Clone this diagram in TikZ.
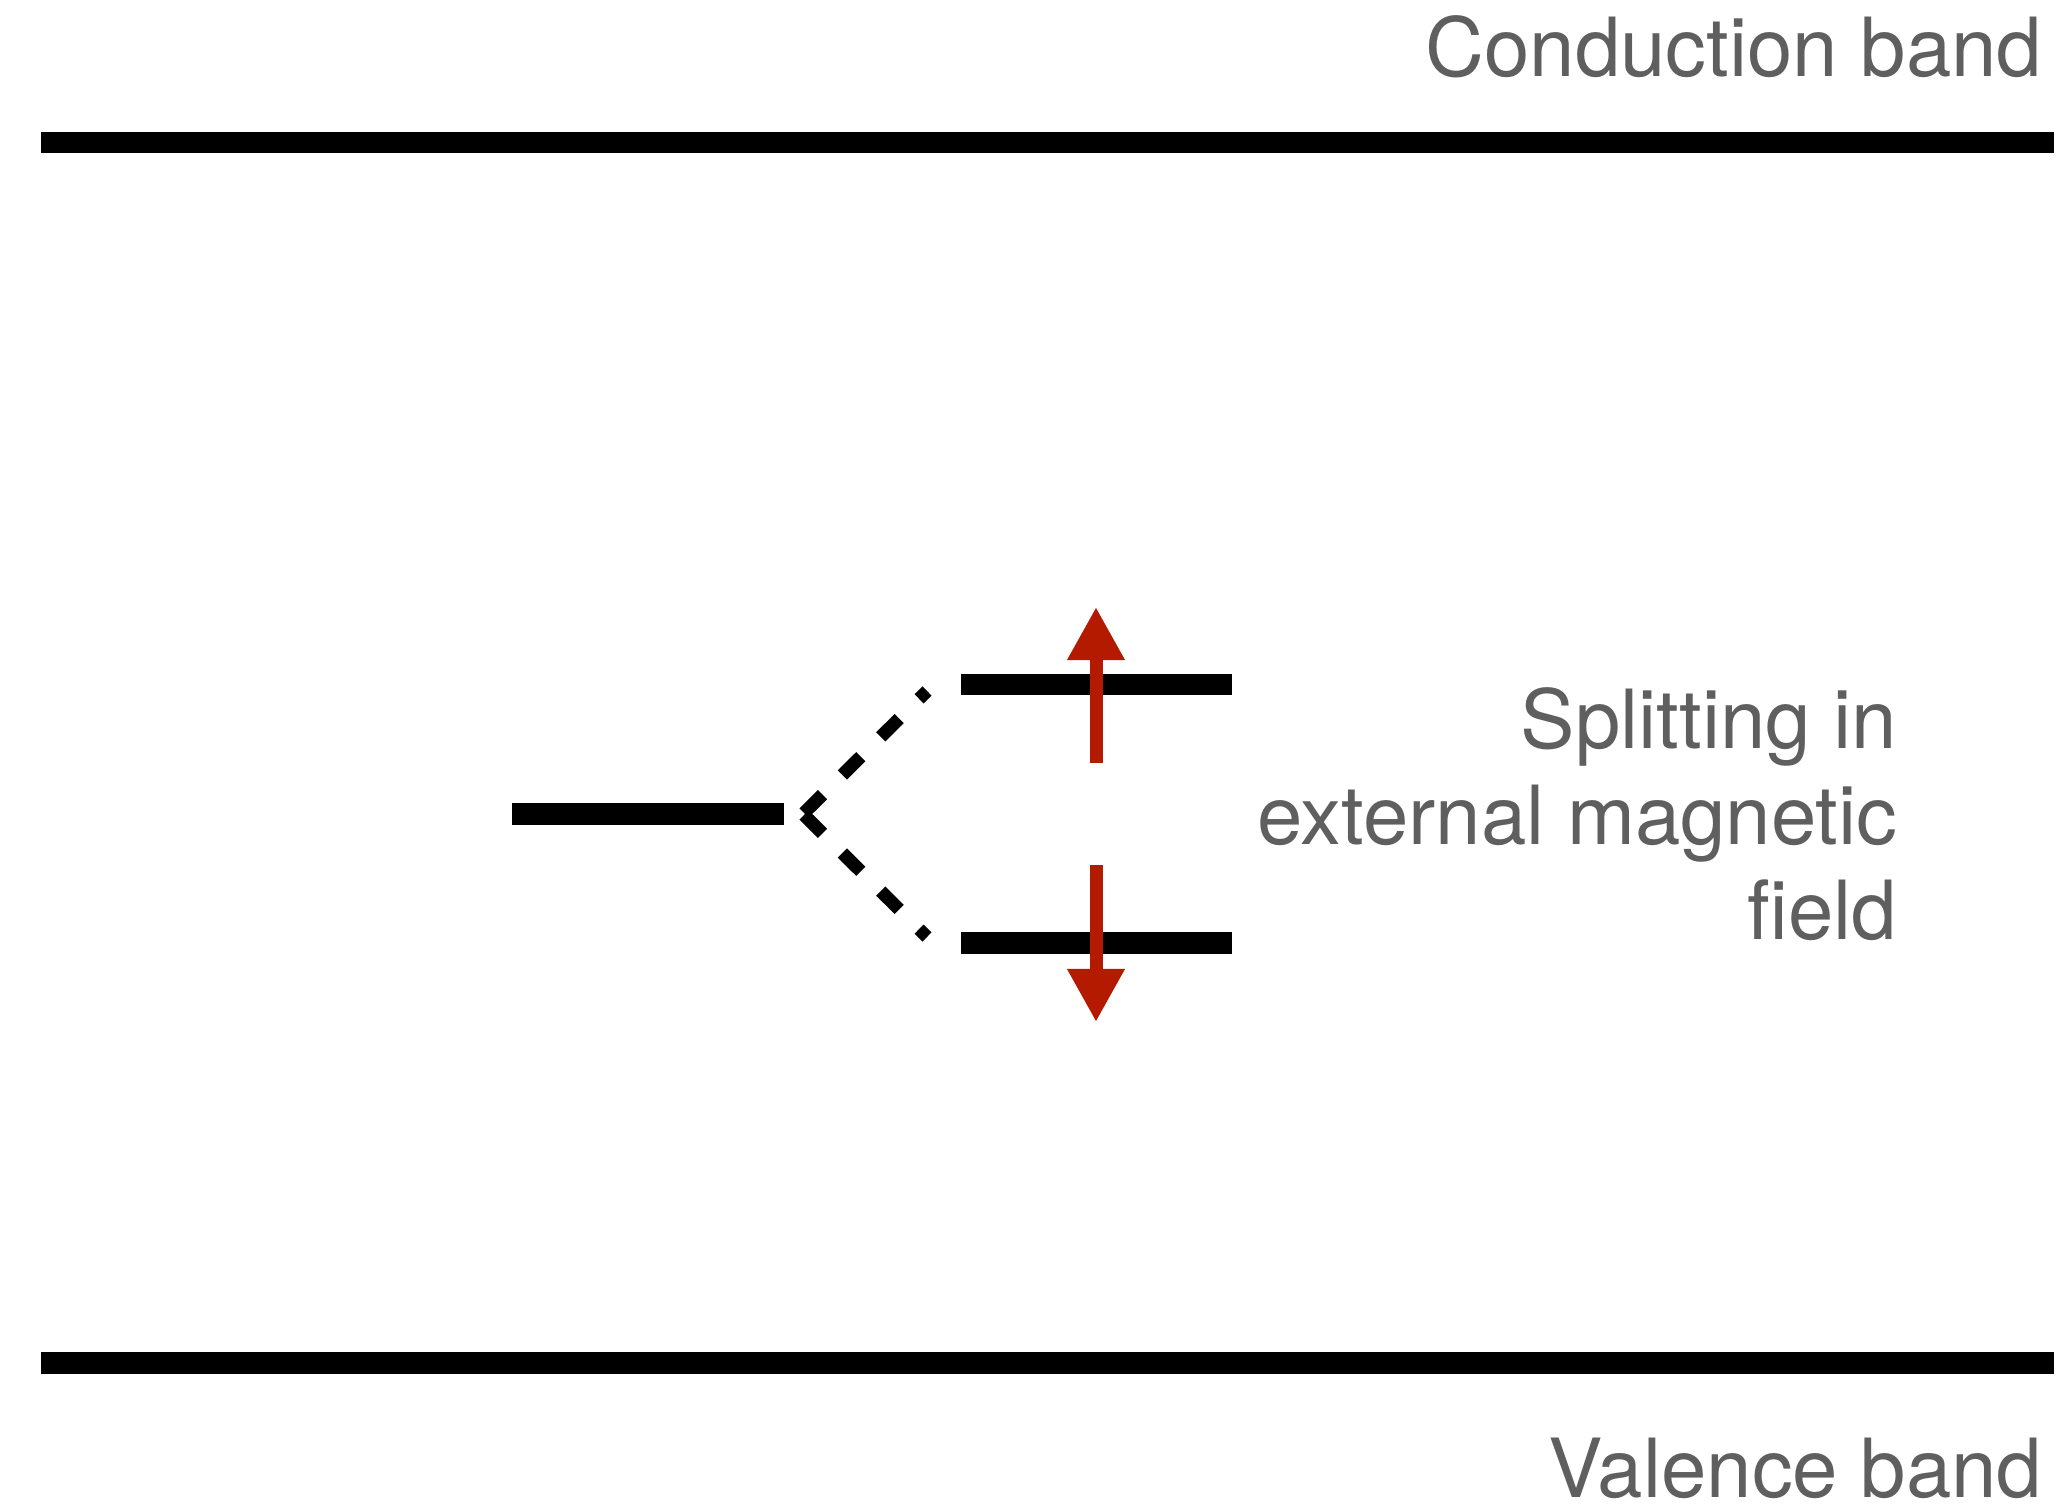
\documentclass[tikz,border=0pt]{standalone}
\usepackage{fontspec}
\setmainfont{TeX Gyre Heros}
\usetikzlibrary{arrows.meta}
\definecolor{sRed}{HTML}{B31A00}
\definecolor{sGrey}{HTML}{5F5F5F}
\tikzset{
  band/.style={line width=0.21cm, black},
  level/.style={line width=0.21cm, black},
  split/.style={line width=0.13cm, black, dash pattern=on 0.26cm off 0.28cm},
  spin/.style={line width=0.13cm, sRed, -{Triangle[length=0.53cm, width=0.54cm]}},
  bandlabel/.style={font=\fontsize{23.2pt}{27.2pt}\selectfont, text=sGrey, inner sep=0pt}
}
\begin{document}
\begin{tikzpicture}[x=0.01cm, y=-0.01cm]
  \useasboundingbox (0,0) rectangle (2069,1504);
  % bands
  \coordinate (cbL) at (41,143);
  \coordinate (cbR) at (2054,143);
  \coordinate (vbL) at (41,1363);
  \coordinate (vbR) at (2054,1363);
  \draw[band] (cbL) -- (cbR);
  \draw[band] (vbL) -- (vbR);
  \node[bandlabel, anchor=base east] (cbText) at (2043,77) {Conduction band};
  \node[bandlabel, anchor=base east, text depth=0pt] (vbText) at (2043,1497) {Valence band};
  % defect level and its Zeeman split
  \coordinate (lvL) at (512,814);
  \coordinate (lvR) at (784,814);
  \coordinate (upL) at (961,685);
  \coordinate (upR) at (1232,685);
  \coordinate (dnL) at (961,943);
  \coordinate (dnR) at (1232,943);
  \draw[level] (lvL) -- (lvR);
  \draw[level] (upL) -- (upR);
  \draw[level] (dnL) -- (dnR);
  \coordinate (fork) at (804,813);
  \coordinate (forkB) at (804,815);
  \coordinate (upEnd) at (927,691);
  \coordinate (dnEnd) at (927,937);
  \draw[split] (fork) -- (upEnd);
  \draw[split] (forkB) -- (dnEnd);
  % spins
  \coordinate (spUpA) at (1096,763);
  \coordinate (spUpB) at (1096,607);
  \coordinate (spDnA) at (1096,865);
  \coordinate (spDnB) at (1096,1022);
  \draw[spin] (spUpA) -- (spUpB);
  \draw[spin] (spDnA) -- (spDnB);
  \node[bandlabel, align=right, anchor=base east] (fieldText) at (1898,940)
    {Splitting in\\external magnetic\\field};
\end{tikzpicture}
\end{document}
